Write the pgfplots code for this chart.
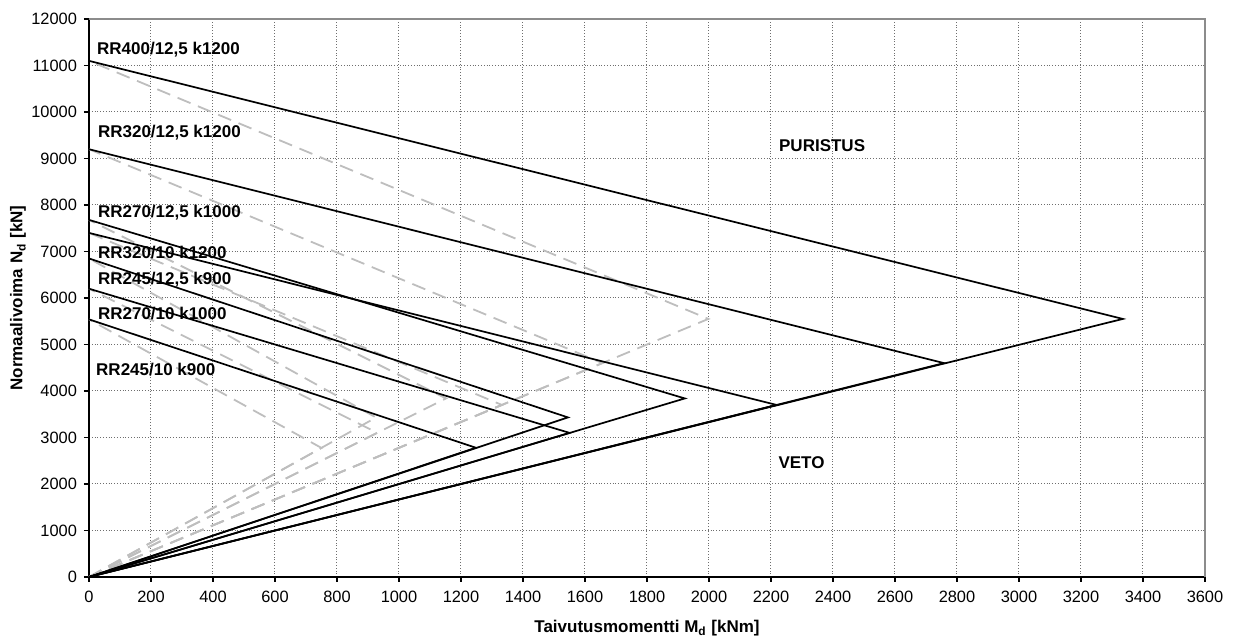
\documentclass[border=0pt]{standalone}
\usepackage{fontspec}
\setmainfont{Liberation Sans}
\usepackage{pgfplots}
\pgfplotsset{compat=1.18}
\definecolor{dashgray}{RGB}{190,190,190}
\definecolor{gridgray}{RGB}{110,110,110}
\begin{document}
\begin{tikzpicture}
\begin{axis}[
  at={(0,0)}, anchor=south west,
  scale only axis, width=558pt, height=279pt,
  xmin=0, xmax=3600, ymin=0, ymax=12000,
  xtick distance=200, ytick distance=1000,
  scaled x ticks=false, scaled y ticks=false,
  axis x line*=bottom, axis y line*=left,
  axis line style={-, black, line width=0.8pt},
  tick align=outside, major tick length=2.5pt,
  tick style={black, line width=0.6pt},
  grid=major,
  major grid style={densely dotted, gridgray, line width=0.5pt},
  /pgf/number format/assume math mode=true,
  /pgf/number format/1000 sep={},
  ticklabel style={font=\fontsize{8.2}{9}\selectfont},
  xticklabel style={yshift=-1pt},
  xlabel={\textbf{Taivutusmomentti M\textsubscript{d} [kNm]}},
  ylabel={\textbf{Normaalivoima N\textsubscript{d} [kN]}},
  label style={font=\fontsize{8.5}{10}\selectfont},
  xlabel style={at={(axis description cs:0.5,-0.0914)}, anchor=center},
  ylabel style={at={(axis description cs:-0.0636,0.5)}, anchor=center},
  clip=false,
]
% dashed grey curves (drawn from the origin so the dash phases coincide)
\addplot[dashgray, line width=0.9pt, dash pattern=on 7pt off 4pt] coordinates {(0,0) (1998,5550) (0,11100)};
\addplot[dashgray, line width=0.9pt, dash pattern=on 7pt off 4pt] coordinates {(0,0) (1656,4600) (0,9200)};
\addplot[dashgray, line width=0.9pt, dash pattern=on 7pt off 4pt] coordinates {(0,0) (1152,3840) (0,7680)};
\addplot[dashgray, line width=0.9pt, dash pattern=on 7pt off 4pt] coordinates {(0,0) (1332,3700) (0,7400)};
\addplot[dashgray, line width=0.9pt, dash pattern=on 7pt off 4pt] coordinates {(0,0) (926,3430) (0,6850)};
\addplot[dashgray, line width=0.9pt, dash pattern=on 7pt off 4pt] coordinates {(0,0) (930,3100) (0,6200)};
\addplot[dashgray, line width=0.9pt, dash pattern=on 7pt off 4pt] coordinates {(0,0) (750,2775) (0,5540)};
% solid black curves
\addplot[black, line width=0.85pt] coordinates {(0,11100) (3335,5550) (0,0)};
\addplot[black, line width=0.85pt] coordinates {(0,9200) (2758,4600) (0,0)};
\addplot[black, line width=0.85pt] coordinates {(0,7680) (1922,3840) (0,0)};
\addplot[black, line width=0.85pt] coordinates {(0,7400) (2218,3700) (0,0)};
\addplot[black, line width=0.85pt] coordinates {(0,6850) (1545,3432) (0,0)};
\addplot[black, line width=0.85pt] coordinates {(0,6200) (1550,3100) (0,0)};
\addplot[black, line width=0.85pt] coordinates {(0,5540) (1248,2780) (0,0)};
% frame top/right
\draw[black!45, line width=0.9pt] (rel axis cs:0,1) -- (rel axis cs:1,1) -- (rel axis cs:1,0);
% labels
\begin{scope}[every node/.style={anchor=west, inner sep=0pt, font=\fontsize{8.5}{10}\selectfont\bfseries}]
\node at (axis cs:25,11333) {RR400/12,5 k1200};
\node at (axis cs:28,9548) {RR320/12,5 k1200};
\node at (axis cs:28,7828) {RR270/12,5 k1000};
\node at (axis cs:28,6968) {RR320/10 k1200};
\node at (axis cs:28,6390) {RR245/12,5 k900};
\node at (axis cs:28,5677) {RR270/10 k1000};
\node at (axis cs:22,4452) {RR245/10 k900};
\node at (axis cs:2225,9280) {PURISTUS};
\node at (axis cs:2223,2450) {VETO};
\end{scope}
\end{axis}
\pgfresetboundingbox
\useasboundingbox (-44.5pt,-32pt) rectangle (574.5pt,288.5pt);
\end{tikzpicture}
\end{document}
